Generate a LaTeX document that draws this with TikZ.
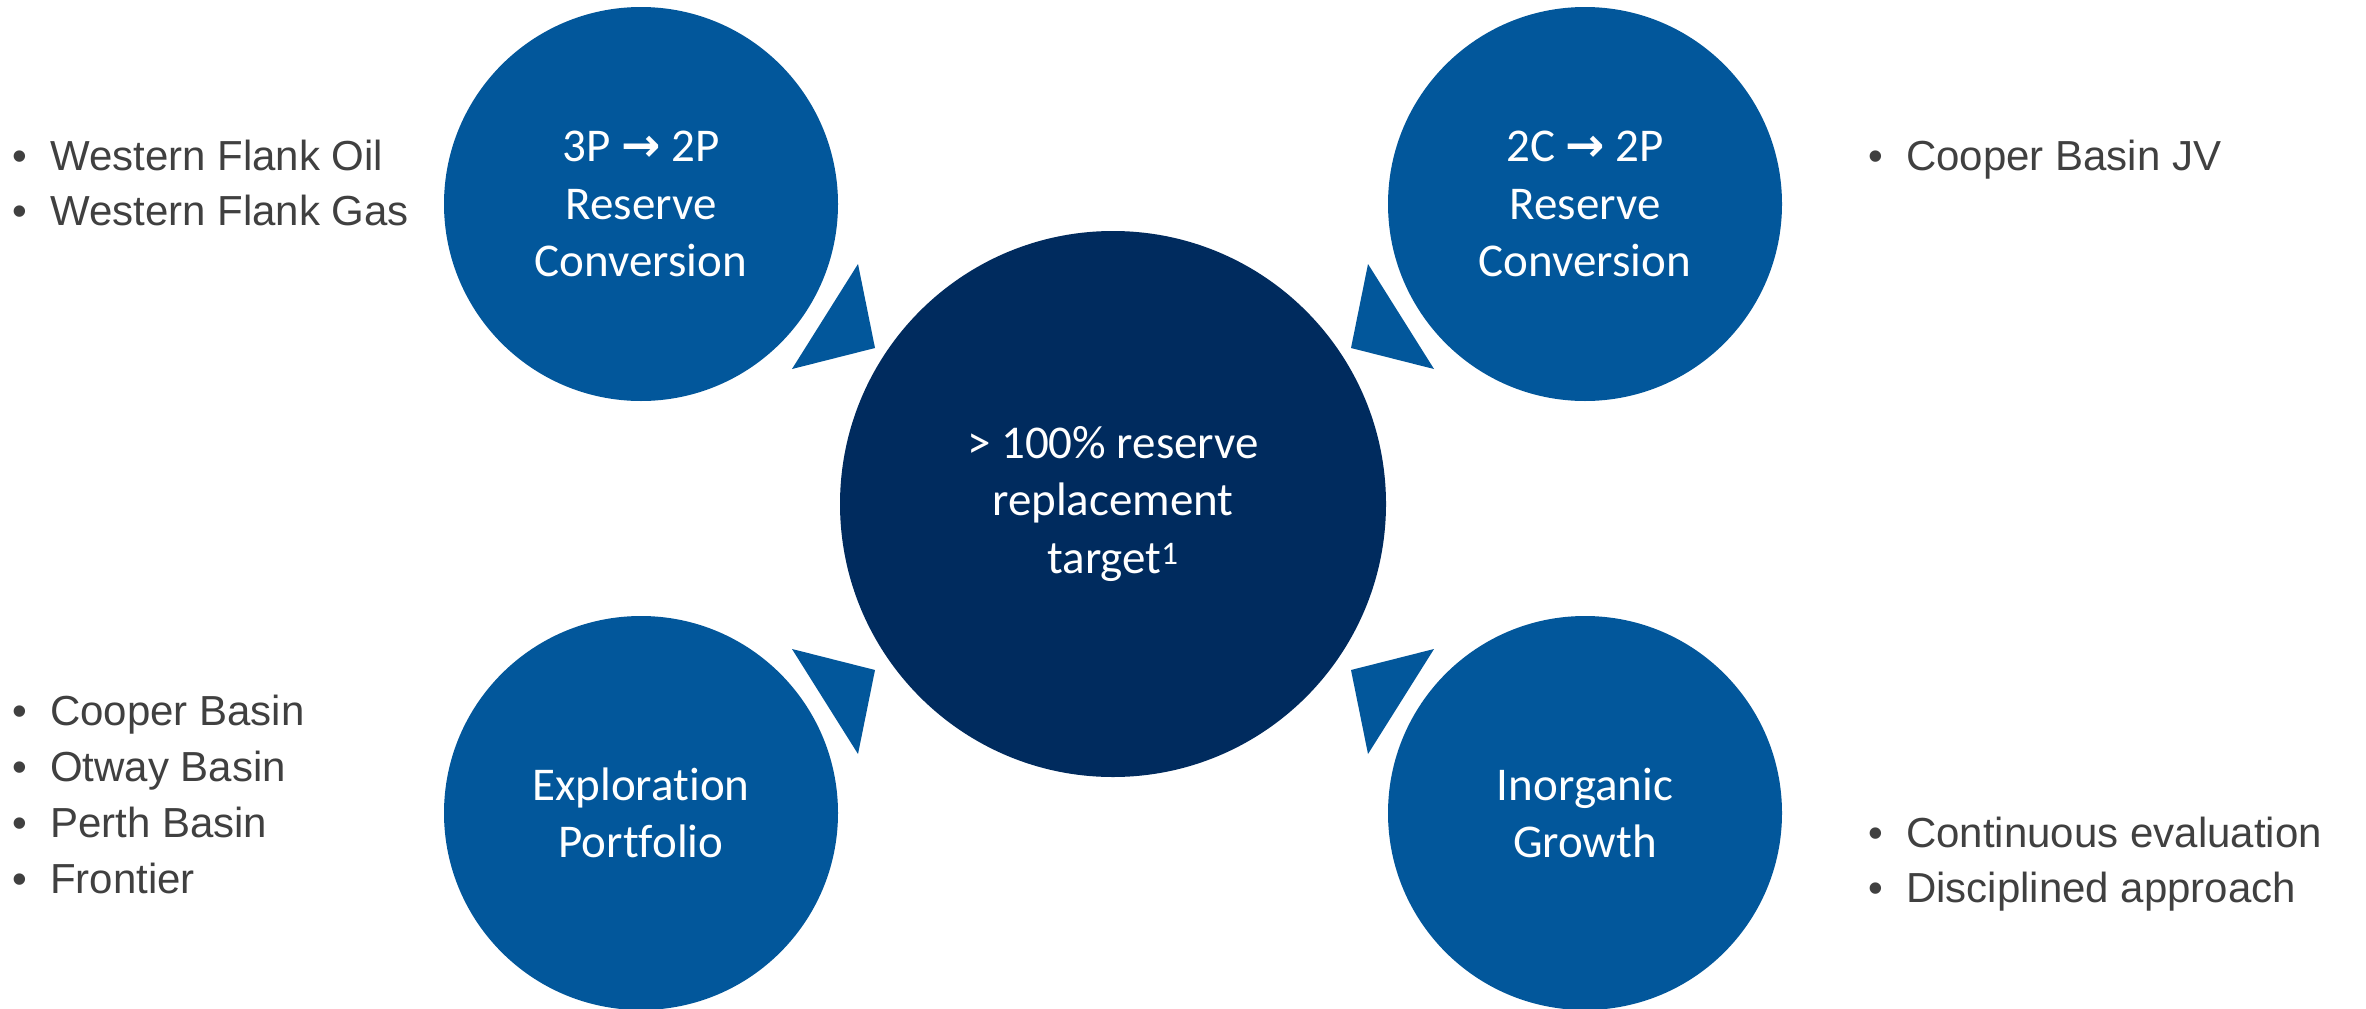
\documentclass[tikz,border=0pt]{standalone}
\usepackage{fontspec}
\setmainfont{Carlito}[Ligatures={NoCommon}]
\newfontfamily\listfont{Liberation Sans}
\newfontfamily\arrowfont{DejaVu Sans}
\definecolor{smallblue}{RGB}{2,87,155}
\definecolor{darkblue}{RGB}{0,43,94}
\definecolor{listgray}{RGB}{64,64,64}
\begin{document}
\begin{tikzpicture}[x=1pt,y=-1pt,
  smallc/.style={circle, fill=smallblue, minimum size=394pt, inner sep=0pt,
    text=white, align=center, font=\fontsize{47}{57.5}\selectfont},
  bigc/.style={circle, fill=darkblue, minimum size=546pt, inner sep=0pt,
    text=white, align=center, font=\fontsize{47}{57.5}\selectfont},
  item/.style={anchor=base west, inner sep=0pt, text=listgray,
    font=\listfont\fontsize{42}{55}\selectfont},
  pointer/.style={fill=smallblue}]
\useasboundingbox (0,0) rectangle (2366,1009);
\fill[white] (0,0) rectangle (2366,1009);
% circles
\node[smallc] (tl) at (641,204) {3P {\arrowfont\bfseries →} 2P\\Reserve\\Conversion};
\node[smallc] (tr) at (1585,204) {2C {\arrowfont\bfseries →} 2P\\Reserve\\Conversion};
\node[smallc] (bl) at (641,813) {Exploration\\Portfolio};
\node[smallc] (br) at (1585,813) {Inorganic\\Growth};
\node[bigc] (mid) at (1113,504) {> 100\% reserve\\replacement\\target\textsuperscript{1}};
% pointers
\fill[pointer] (858,264) -- (875,348) -- (792,369) -- cycle;
\fill[pointer] (1368,264) -- (1351,348) -- (1434,369) -- cycle;
\fill[pointer] (858,754) -- (875,670) -- (792,649) -- cycle;
\fill[pointer] (1368,754) -- (1351,670) -- (1434,649) -- cycle;
% lists
\node[item] (la1) at (12,170) {\makebox[38pt][l]{•}Western Flank Oil};
\node[item] (la2) at (12,225) {\makebox[38pt][l]{•}Western Flank Gas};
\node[item] (lb1) at (1868,170) {\makebox[38pt][l]{•}Cooper Basin JV};
\node[item] (lc1) at (12,725) {\makebox[38pt][l]{•}Cooper Basin};
\node[item] (lc2) at (12,781) {\makebox[38pt][l]{•}Otway Basin};
\node[item] (lc3) at (12,837) {\makebox[38pt][l]{•}Perth Basin};
\node[item] (lc4) at (12,893) {\makebox[38pt][l]{•}Frontier};
\node[item] (ld1) at (1868,847) {\makebox[38pt][l]{•}Continuous evaluation};
\node[item] (ld2) at (1868,902) {\makebox[38pt][l]{•}Disciplined approach};
\end{tikzpicture}
\end{document}
